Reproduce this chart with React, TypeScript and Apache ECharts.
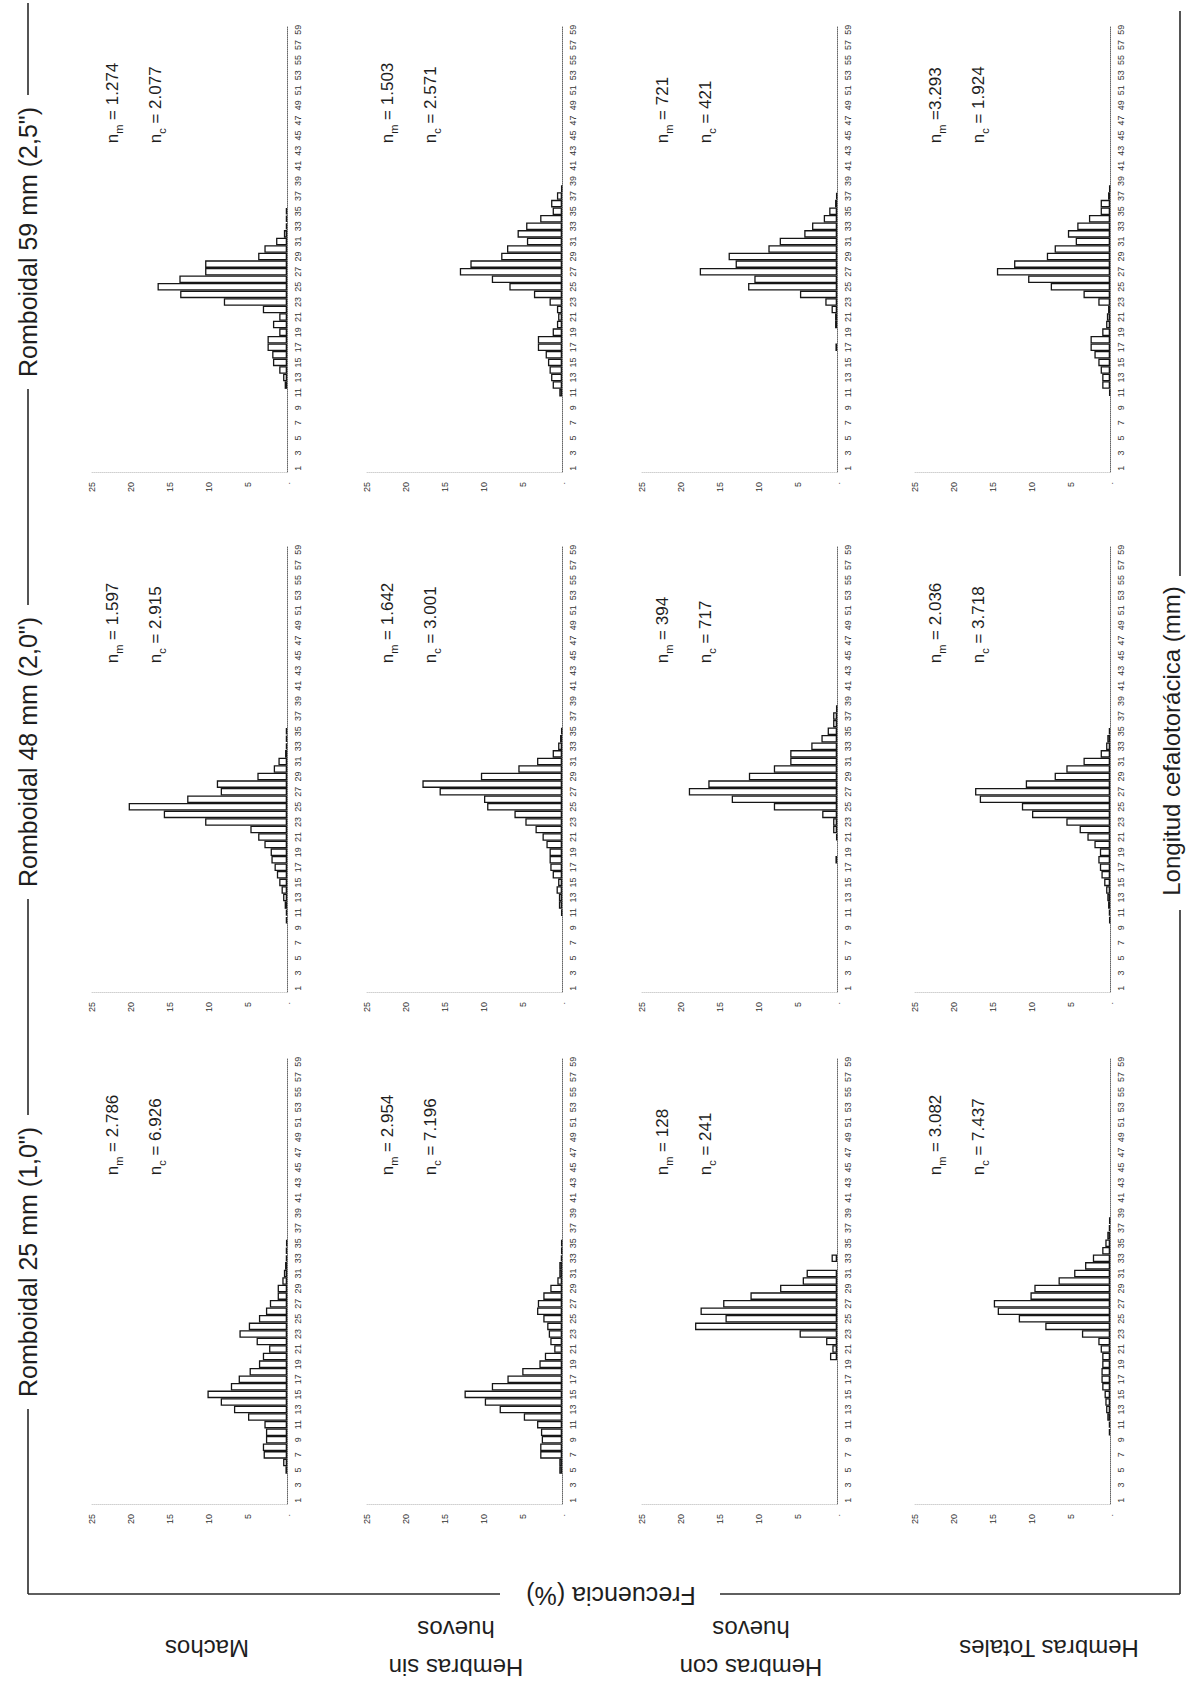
import React, { useEffect, useRef } from 'react';
import * as echarts from 'echarts';

// ---------- DATA ----------
const categories = [
  '1', '2', '3', '4', '5', '6', '7', '8', '9', '10',
  '11', '12', '13', '14', '15', '16', '17', '18', '19', '20',
  '21', '22', '23', '24', '25', '26', '27', '28', '29', '30',
  '31', '32', '33', '34', '35', '36', '37', '38', '39', '40',
  '41', '42', '43', '44', '45', '46', '47', '48', '49', '50',
  '51', '52', '53', '54', '55', '56', '57', '58', '59',
];

const columnTitles = ['Romboidal 59 mm (2,5")', 'Romboidal 48 mm (2,0")', 'Romboidal 25 mm (1,0")'];
const rowTitles = ['Machos', 'Hembras sin\nhuevos', 'Hembras con\nhuevos', 'Hembras Totales'];
const yAxisTitle = 'Frecuencia (%)';
const xAxisTitle = 'Longitud cefalotorácica (mm)';

// Frecuencia (%) per 1-mm class (1..59)
// Romboidal 59 mm
const machos59 = [
  0, 0, 0, 0, 0, 0, 0, 0, 0, 0,
  0, 0.3, 0.5, 1.0, 1.8, 1.9, 2.5, 2.5, 1.0, 1.8,
  1.0, 3.1, 8.1, 13.7, 16.6, 13.8, 10.5, 10.5, 3.7, 2.9,
  1.4, 0.4, 0.15, 0.15, 0.15, 0, 0, 0, 0, 0,
  0, 0, 0, 0, 0, 0, 0, 0, 0, 0,
  0, 0, 0, 0, 0, 0, 0, 0, 0,
];
const sinHuevos59 = [
  0, 0, 0, 0, 0, 0, 0, 0, 0, 0,
  0.35, 1.2, 1.4, 1.6, 1.8, 2.1, 3.1, 3.1, 1.2, 0.65,
  0.5, 0.65, 1.6, 3.6, 6.75, 9.0, 13.1, 11.75, 7.8, 7.05,
  4.5, 5.7, 4.6, 2.8, 1.2, 1.4, 0.65, 0.1, 0, 0,
  0, 0, 0, 0, 0, 0, 0, 0, 0, 0,
  0, 0, 0, 0, 0, 0, 0, 0, 0,
];
const conHuevos59 = [
  0, 0, 0, 0, 0, 0, 0, 0, 0, 0,
  0, 0, 0, 0, 0, 0, 0.2, 0, 0, 0.25,
  0.25, 0.7, 1.5, 4.75, 11.4, 10.6, 17.6, 13.0, 13.9, 8.8,
  7.35, 4.2, 3.2, 1.7, 1.0, 0.25, 0.1, 0, 0, 0,
  0, 0, 0, 0, 0, 0, 0, 0, 0, 0,
  0, 0, 0, 0, 0, 0, 0, 0, 0,
];
const totales59 = [
  0, 0, 0, 0, 0, 0, 0, 0, 0, 0,
  0.1, 1.0, 1.0, 1.2, 1.5, 2.0, 2.5, 2.5, 1.0, 0.5,
  0.4, 0.25, 1.5, 3.4, 7.6, 10.5, 14.5, 12.3, 8.1, 7.1,
  4.4, 5.4, 4.2, 2.7, 1.2, 1.2, 0.25, 0.1, 0, 0,
  0, 0, 0, 0, 0, 0, 0, 0, 0, 0,
  0, 0, 0, 0, 0, 0, 0, 0, 0,
];
// Romboidal 48 mm
const machos48 = [
  0, 0, 0, 0, 0, 0, 0, 0, 0, 0.15,
  0.15, 0.3, 0.5, 0.7, 1.0, 1.3, 1.6, 2.0, 2.1, 2.9,
  3.7, 4.7, 10.5, 15.8, 20.3, 12.8, 8.5, 9.0, 3.8, 1.7,
  1.1, 0.25, 0.15, 0.15, 0.15, 0, 0, 0, 0, 0,
  0, 0, 0, 0, 0, 0, 0, 0, 0, 0,
  0, 0, 0, 0, 0, 0, 0, 0, 0,
];
const sinHuevos48 = [
  0, 0, 0, 0, 0, 0, 0, 0, 0, 0,
  0.1, 0.4, 0.4, 0.7, 0.5, 1.2, 1.5, 1.6, 1.6, 2.0,
  2.5, 3.4, 4.7, 6.1, 9.6, 10.0, 15.7, 17.9, 10.4, 5.6,
  3.2, 1.2, 0.5, 0.25, 0.1, 0, 0, 0, 0, 0,
  0, 0, 0, 0, 0, 0, 0, 0, 0, 0,
  0, 0, 0, 0, 0, 0, 0, 0, 0,
];
const conHuevos48 = [
  0, 0, 0, 0, 0, 0, 0, 0, 0, 0,
  0, 0, 0, 0, 0, 0, 0, 0.2, 0, 0,
  0.1, 0.5, 0.5, 1.9, 8.1, 13.5, 19.0, 16.5, 11.3, 8.1,
  6.0, 6.0, 3.3, 2.0, 1.2, 0.5, 0.5, 0.1, 0, 0,
  0, 0, 0, 0, 0, 0, 0, 0, 0, 0,
  0, 0, 0, 0, 0, 0, 0, 0, 0,
];
const totales48 = [
  0, 0, 0, 0, 0, 0, 0, 0, 0, 0.1,
  0.15, 0.25, 0.35, 0.5, 0.75, 1.1, 1.3, 1.5, 1.3, 2.0,
  2.9, 3.9, 5.6, 10.0, 11.3, 16.7, 17.3, 10.8, 7.1, 5.6,
  3.4, 1.2, 0.5, 0.35, 0.15, 0, 0, 0, 0, 0,
  0, 0, 0, 0, 0, 0, 0, 0, 0, 0,
  0, 0, 0, 0, 0, 0, 0, 0, 0,
];
// Romboidal 25 mm
const machos25 = [
  0, 0, 0, 0, 0.2, 0.5, 3.0, 3.1, 2.7, 2.7,
  2.9, 5.0, 6.8, 8.5, 10.2, 7.2, 6.2, 4.8, 3.6, 3.1,
  2.3, 3.9, 6.1, 4.9, 3.6, 2.7, 2.2, 1.2, 1.2, 0.6,
  0.4, 0.25, 0.15, 0.15, 0.1, 0, 0, 0, 0, 0,
  0, 0, 0, 0, 0, 0, 0, 0, 0, 0,
  0, 0, 0, 0, 0, 0, 0, 0, 0,
];
const sinHuevos25 = [
  0, 0, 0, 0, 0.35, 0.35, 2.8, 2.8, 2.6, 2.7,
  3.2, 4.9, 8.0, 9.9, 12.5, 9.0, 7.0, 5.1, 2.9, 2.2,
  1.0, 1.5, 1.7, 1.9, 2.4, 3.2, 3.1, 2.4, 1.5, 0.6,
  0.35, 0.35, 0.15, 0.1, 0.1, 0, 0, 0, 0, 0,
  0, 0, 0, 0, 0, 0, 0, 0, 0, 0,
  0, 0, 0, 0, 0, 0, 0, 0, 0,
];
const conHuevos25 = [
  0, 0, 0, 0, 0, 0, 0, 0, 0, 0,
  0, 0, 0, 0, 0, 0, 0, 0, 0, 0.9,
  0.6, 1.4, 4.8, 18.2, 14.3, 17.5, 14.6, 11.1, 7.3, 4.4,
  3.9, 0, 0.7, 0, 0, 0, 0, 0, 0, 0,
  0, 0, 0, 0, 0, 0, 0, 0, 0, 0,
  0, 0, 0, 0, 0, 0, 0, 0, 0,
];
const totales25 = [
  0, 0, 0, 0, 0, 0, 0, 0, 0, 0.15,
  0.15, 0.35, 0.5, 0.6, 0.7, 1.0, 1.1, 1.1, 1.0, 1.0,
  1.2, 1.5, 3.6, 8.3, 11.7, 14.4, 14.9, 10.2, 9.7, 6.6,
  4.6, 3.2, 2.2, 1.0, 0.6, 0.35, 0.15, 0.1, 0, 0,
  0, 0, 0, 0, 0, 0, 0, 0, 0, 0,
  0, 0, 0, 0, 0, 0, 0, 0, 0,
];

// sample sizes (n_m, n_c) per column (59, 48, 25) and row
const nMLabels = [
  [' = 1.274', ' = 1.503', ' = 721', ' =3.293'],
  [' = 1.597', ' = 1.642', ' = 394', ' = 2.036'],
  [' = 2.786', ' = 2.954', ' = 128', ' = 3.082'],
];
const nCLabels = [
  [' = 2.077', ' = 2.571', ' = 421', ' = 1.924'],
  [' = 2.915', ' = 3.001', ' = 717', ' = 3.718'],
  [' = 6.926', ' = 7.196', ' = 241', ' = 7.437'],
];

const valueMax = 25;
const valueStep = 5;

// ---------- LAYOUT ----------
const FONT = "'Liberation Sans', Arial, Helvetica, sans-serif";
const INK = '#1e1e1e';
const LINE = '#2a2a2a';
const baselineX = [287, 562, 837, 1110];
const blockTop = [26, 546, 1058];
const PLOT_W = 195;
const PLOT_H = 446;
const titleCY = [242, 752, 1262];
const rowLabelX = [207, 456, 751, 1049];

export default function App() {
  const ref = useRef<HTMLDivElement>(null);

  useEffect(() => {
    if (!ref.current) return;
    const chart = echarts.init(ref.current, undefined, { renderer: 'svg' });

    const panels = [
      [machos59, sinHuevos59, conHuevos59, totales59],
      [machos48, sinHuevos48, conHuevos48, totales48],
      [machos25, sinHuevos25, conHuevos25, totales25],
    ];

    const grid: any[] = [];
    const xAxis: any[] = [];
    const yAxis: any[] = [];
    const series: any[] = [];
    const graphic: any[] = [];

    panels.forEach((col, c) => {
      col.forEach((vals, r) => {
        const i = c * 4 + r;
        const B = baselineX[r];
        grid.push({ left: B - PLOT_W, top: blockTop[c], width: PLOT_W, height: PLOT_H });
        xAxis.push({
          gridIndex: i,
          type: 'value',
          min: 0,
          max: valueMax,
          interval: valueStep,
          inverse: true,
          position: 'bottom',
          axisLine: { show: true, onZero: false, lineStyle: { color: '#d0d0d0', type: 'dotted', width: 1 } },
          axisTick: { show: false },
          splitLine: { show: false },
          axisLabel: {
            rotate: 90,
            margin: 10,
            fontSize: 9,
            color: '#333',
            fontFamily: FONT,
            formatter: (v: number) => (v === 0 ? '.' : String(v)),
          },
        });
        yAxis.push({
          gridIndex: i,
          type: 'category',
          data: categories,
          position: 'right',
          boundaryGap: true,
          axisLine: { show: true, onZero: false, lineStyle: { color: '#666', type: 'dotted', width: 1 } },
          axisTick: { show: false },
          splitLine: { show: false },
          axisLabel: { interval: 1, rotate: 90, margin: 6, fontSize: 9, color: '#333', fontFamily: FONT },
        });
        series.push({
          type: 'bar',
          xAxisIndex: i,
          yAxisIndex: i,
          data: vals.map((v) => (v === 0 ? null : v)),
          barCategoryGap: '0%',
          barGap: '0%',
          silent: true,
          itemStyle: { color: '#ffffff', borderColor: '#161616', borderWidth: 1.3 },
        });

        // n_m / n_c labels
        const cat1Y = blockTop[c] + PLOT_H - PLOT_H / 59 / 2;
        const y0 = cat1Y - 325;
        const mk = (x: number, s: string, val: string) => ({
          type: 'text',
          x,
          y: y0,
          rotation: Math.PI / 2,
          silent: true,
          style: {
            text: `{a|n}{b|${s}}{a|${val}}`,
            align: 'left',
            verticalAlign: 'middle',
            rich: {
              a: { fontSize: 17, fontFamily: FONT, fill: INK, verticalAlign: 'top' },
              b: { fontSize: 11, fontFamily: FONT, fill: INK, verticalAlign: 'bottom', lineHeight: 21 },
            },
          },
        });
        graphic.push(mk(B - 173, 'm', nMLabels[c][r]));
        graphic.push(mk(B - 130, 'c', nCLabels[c][r]));
      });
    });

    // column titles (rotated)
    columnTitles.forEach((t, c) => {
      graphic.push({
        type: 'text',
        x: 28,
        y: titleCY[c],
        rotation: Math.PI / 2,
        silent: true,
        style: { text: t, fontSize: 25, fontFamily: FONT, fill: INK, align: 'center', verticalAlign: 'middle' },
      });
    });

    // row titles (upside down)
    rowTitles.forEach((t, r) => {
      graphic.push({
        type: 'text',
        x: rowLabelX[r],
        y: 1648,
        rotation: Math.PI,
        silent: true,
        style: {
          text: t,
          fontSize: 24,
          lineHeight: 38,
          fontFamily: FONT,
          fill: INK,
          align: 'center',
          verticalAlign: 'middle',
        },
      });
    });

    graphic.push({
      type: 'text',
      x: 611,
      y: 1596,
      rotation: Math.PI,
      silent: true,
      style: { text: yAxisTitle, fontSize: 25, fontFamily: FONT, fill: INK, align: 'center', verticalAlign: 'middle' },
    });
    graphic.push({
      type: 'text',
      x: 1171,
      y: 741,
      rotation: Math.PI / 2,
      silent: true,
      style: { text: xAxisTitle, fontSize: 24, fontFamily: FONT, fill: INK, align: 'center', verticalAlign: 'middle' },
    });

    const seg = (x1: number, y1: number, x2: number, y2: number) => ({
      type: 'line',
      silent: true,
      shape: { x1, y1, x2, y2 },
      style: { stroke: LINE, lineWidth: 1.6 },
    });
    // left bracket (column titles)
    graphic.push(seg(28, 3, 28, 95));
    graphic.push(seg(28, 389, 28, 605));
    graphic.push(seg(28, 899, 28, 1115));
    graphic.push(seg(28, 1409, 28, 1594));
    // bottom bracket (Frecuencia)
    graphic.push(seg(28, 1594, 500, 1594));
    graphic.push(seg(720, 1594, 1180, 1594));
    // right bracket (Longitud)
    graphic.push(seg(1180, 11, 1180, 576));
    graphic.push(seg(1180, 910, 1180, 1594));

    chart.setOption({
      animation: false,
      backgroundColor: '#ffffff',
      textStyle: { fontFamily: FONT },
      grid,
      xAxis,
      yAxis,
      series,
      graphic,
    });

    return () => chart.dispose();
  }, []);

  return (
    <div
      ref={ref}
      style={{ position: 'absolute', left: 0, top: 0, width: 1188, height: 1684, background: '#fff' }}
    />
  );
}
